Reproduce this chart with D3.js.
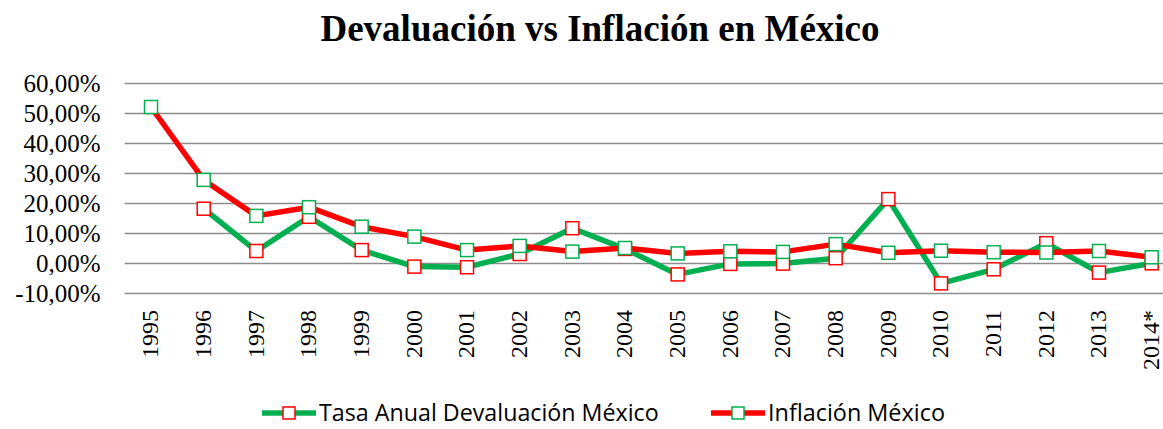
<!DOCTYPE html>
<html>
<head>
<meta charset="utf-8">
<script src="https://cdn.jsdelivr.net/npm/d3@7"></script>
<style>
  body { margin: 0; background: #fff; }
  svg { display: block; }
</style>
</head>
<body>
<div id="chart"></div>
<script>
const years = ['1995', '1996', '1997', '1998', '1999', '2000', '2001', '2002', '2003', '2004',
    '2005', '2006', '2007', '2008', '2009', '2010', '2011', '2012', '2013', '2014*']

// Tasa anual de devaluacion (%), 1995 sin dato
const devaluacion = [null, 18.1, 4.0, 15.4, 4.3, -1.2, -1.4, 3.0, 11.6, 4.7,
    -3.8, -0.3, -0.2, 1.6, 21.3, -6.8, -2.1, 6.6, -3.2, -0.1]

// Inflacion anual (%)
const inflacion = [52.0, 27.7, 15.7, 18.6, 12.1, 8.8, 4.3, 5.7, 3.8, 5.0,
    3.2, 3.9, 3.7, 6.3, 3.4, 4.1, 3.6, 3.5, 4.0, 1.9]

const yTicks = [-10, 0, 10, 20, 30, 40, 50, 60]

const seriesNames = ['Tasa Anual Devaluación México', 'Inflación México']

const width = 1163
const height = 429
const plotLeft = 124.7
const plotRight = 1178
const plotTop = 83
const plotBottom = 293

const green = '#00b050'
const red = '#ff0000'

const svg = d3.select('#chart').append('svg')
    .attr('width', width)
    .attr('height', height)

const x = d3.scaleBand()
    .domain(years)
    .range([plotLeft, plotRight])

const y = d3.scaleLinear()
    .domain([-10, 60])
    .range([plotBottom, plotTop])

const locale = d3.formatLocale({decimal: ',', thousands: '.', grouping: [3], currency: ['', ''], minus: '-'})
const fmt = locale.format('.2f')

// eje y + lineas de cuadricula
const yAxis = svg.append('g')
    .attr('transform', `translate(${plotLeft},0)`)
    .call(d3.axisLeft(y)
        .tickValues(yTicks)
        .tickSize(-(plotRight - plotLeft))
        .tickPadding(24)
        .tickFormat(d => fmt(d) + '%'))

yAxis.select('.domain').remove()
yAxis.selectAll('line')
    .attr('stroke', '#8c8c8c')
    .attr('stroke-width', 1.6)
yAxis.selectAll('text')
    .style('font-family', '"Liberation Serif", "Times New Roman", serif')
    .style('font-size', '25px')
    .attr('fill', '#000')

// eje x
const xAxis = svg.append('g')
    .attr('transform', `translate(0,${plotBottom})`)
    .call(d3.axisBottom(x).tickSize(0))

xAxis.select('.domain').remove()
xAxis.selectAll('text')
    .attr('transform', 'rotate(-90)')
    .attr('x', -17)
    .attr('y', 0)
    .attr('dy', '0.3em')
    .style('text-anchor', 'end')
    .style('font-family', '"Liberation Serif", "Times New Roman", serif')
    .style('font-size', '24px')
    .attr('fill', '#000')

const cx = i => x(years[i]) + x.bandwidth() / 2

const line = d3.line()
    .defined(d => d != null)
    .x((d, i) => cx(i))
    .y(d => y(d))

svg.append('path')
    .datum(devaluacion)
    .attr('fill', 'none')
    .attr('stroke', green)
    .attr('stroke-width', 5.5)
    .attr('stroke-linejoin', 'round')
    .attr('d', line)

svg.append('path')
    .datum(inflacion)
    .attr('fill', 'none')
    .attr('stroke', red)
    .attr('stroke-width', 5.5)
    .attr('stroke-linejoin', 'round')
    .attr('d', line)

const ms = 13

function markers(data, color) {
    svg.append('g').selectAll('rect')
        .data(data.map((v, i) => ({v, i})).filter(d => d.v != null))
        .join('rect')
        .attr('x', d => cx(d.i) - ms / 2)
        .attr('y', d => y(d.v) - ms / 2)
        .attr('width', ms)
        .attr('height', ms)
        .attr('fill', '#fff')
        .attr('stroke', color)
        .attr('stroke-width', 1.5)
}

markers(devaluacion, red)
markers(inflacion, green)

// titulo
svg.append('text')
    .attr('x', 600)
    .attr('y', 41)
    .attr('text-anchor', 'middle')
    .style('font-family', '"Liberation Serif", "Times New Roman", serif')
    .style('font-weight', 'bold')
    .style('font-size', '37px')
    .text('Devaluación vs Inflación en México')

// leyenda
const legendItems = [
    {name: seriesNames[0], lineColor: green, markColor: red, x: 262, textLen: 340},
    {name: seriesNames[1], lineColor: red, markColor: green, x: 711, textLen: 177}
]

const legend = svg.append('g')
    .attr('transform', 'translate(0,413)')

legendItems.forEach(item => {
    const g = legend.append('g').attr('transform', `translate(${item.x},0)`)
    g.append('line')
        .attr('x1', 0).attr('x2', 54)
        .attr('stroke', item.lineColor)
        .attr('stroke-width', 5.5)
    g.append('rect')
        .attr('x', 27 - 6).attr('y', -6)
        .attr('width', 12).attr('height', 12)
        .attr('fill', '#fff')
        .attr('stroke', item.markColor)
        .attr('stroke-width', 1.5)
    const t = g.append('text')
        .attr('x', 57)
        .attr('dy', '0.35em')
        .style('font-family', '"Open Sans", "Noto Sans", sans-serif')
        .style('font-size', '26px')
        .text(item.name)
    // ajustar tamano de letra para que el ancho coincida con la leyenda original
    const natural = t.node().getComputedTextLength()
    if (natural > item.textLen) {
        t.style('font-size', `${26 * item.textLen / natural}px`)
    }
})
</script>
</body>
</html>
